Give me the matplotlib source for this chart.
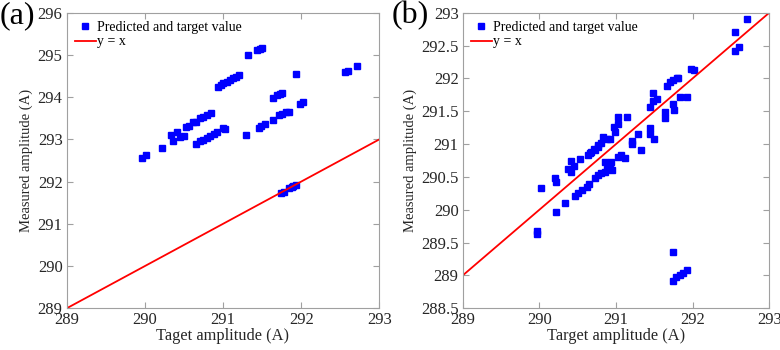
import numpy as np
import matplotlib.pyplot as plt
from matplotlib import font_manager

serif_path = font_manager.findfont(font_manager.FontProperties(family='Liberation Serif'))
serif_name = font_manager.FontProperties(fname=serif_path).get_name()
plt.rcParams['font.family'] = 'serif'
plt.rcParams['font.serif'] = [serif_name, 'Liberation Serif', 'DejaVu Serif']

# panel (a) target / measured
a_x = [289.96, 290.01, 290.22, 290.34, 290.36, 290.41, 290.45, 290.50, 290.53, 290.57,
       290.62, 290.66, 290.70, 290.75, 290.79, 290.85, 290.65, 290.71, 290.75, 290.79,
       290.83, 290.88, 290.92, 291.00, 291.03, 290.94, 290.97, 291.00, 291.05, 291.09,
       291.13, 291.17, 291.21, 291.29, 291.32, 291.43, 291.47, 291.50, 291.46, 291.49,
       291.54, 291.64, 291.64, 291.69, 291.73, 291.76, 291.72, 291.76, 291.81, 291.85,
       291.93, 291.98, 292.03, 292.56, 292.60, 292.72, 291.74, 291.78, 291.84, 291.88,
       291.93, 291.90]
a_y = [292.57, 292.62, 292.80, 293.10, 292.95, 293.17, 293.05, 293.08, 293.30, 293.32,
       293.40, 293.42, 293.50, 293.52, 293.57, 293.63, 292.88, 292.95, 292.98, 293.04,
       293.08, 293.13, 293.17, 293.26, 293.25, 294.25, 294.29, 294.33, 294.37, 294.41,
       294.45, 294.48, 294.52, 293.10, 295.00, 295.12, 295.15, 295.16, 293.28, 293.32,
       293.36, 293.46, 293.99, 294.04, 294.08, 294.11, 293.58, 293.60, 293.65, 293.66,
       294.56, 293.84, 293.88, 294.60, 294.63, 294.73, 291.74, 291.76, 291.84, 291.88,
       291.92, 291.90]

# panel (b)
b_x = [289.97, 289.97, 290.02, 290.21, 290.22, 290.22, 290.34, 290.37, 290.41, 290.41,
       290.45, 290.47, 290.53, 290.51, 290.55, 290.62, 290.65, 290.64, 290.68, 290.73,
       290.77, 290.80, 290.83, 290.88, 290.92, 290.73, 290.77, 290.81, 290.86, 290.86,
       290.90, 290.92, 290.88, 290.95, 290.94, 290.97, 290.99, 291.03, 291.03, 291.03,
       291.07, 291.12, 291.15, 291.21, 291.21, 291.29, 291.32, 291.44, 291.45, 291.49,
       291.45, 291.48, 291.48, 291.53, 291.64, 291.64, 291.66, 291.70, 291.75, 291.79,
       291.81, 291.75, 291.76, 291.84, 291.93, 291.98, 292.02, 292.55, 292.55, 292.60,
       292.71, 291.75, 291.74, 291.78, 291.83, 291.88, 291.92, 290.66, 290.71, 290.76]
b_y = [289.67, 289.63, 290.33, 290.48, 290.43, 289.97, 290.11, 290.62, 290.57, 290.74,
       290.67, 290.21, 290.77, 290.26, 290.30, 290.35, 290.39, 290.84, 290.88, 290.91,
       290.96, 291.01, 291.11, 291.08, 291.07, 290.49, 290.53, 290.56, 290.58, 290.73,
       290.70, 290.66, 290.62, 290.61, 290.72, 291.26, 291.19, 291.31, 291.41, 290.80,
       290.83, 290.79, 291.41, 291.04, 291.00, 291.15, 290.91, 291.15, 291.24, 291.07,
       291.57, 291.78, 291.65, 291.68, 291.49, 291.39, 291.88, 291.95, 291.97, 292.00,
       292.01, 291.61, 291.52, 291.72, 291.72, 292.15, 292.13, 292.71, 292.41, 292.48,
       292.90, 289.35, 288.92, 288.98, 289.00, 289.03, 289.09, 290.87, 290.93, 290.98]

grey = '#a0a0a0'
fig = plt.figure(figsize=(7.8, 3.5), dpi=100)
ax1 = fig.add_axes([66.7 / 780, 1 - 308.3 / 350, 312.6 / 780, 295.6 / 350])
ax2 = fig.add_axes([462.7 / 780, 1 - 308.3 / 350, 306.6 / 780, 295.6 / 350])

panels = [
    (ax1, a_x, a_y, (289, 296), np.arange(289, 297, 1), 'Taget amplitude (A)', '(a)', 0.0),
    (ax2, b_x, b_y, (288.5, 293), np.arange(288.5, 293.01, 0.5), 'Target amplitude (A)', '(b)', 0.502),
]
for ax, xs, ys, ylim, yt, xl, tag, tx in panels:
    ax.plot(xs, ys, 's', color='#0000ff', markersize=5, label='Predicted and target value')
    line = np.array([289, 293])
    ax.plot(line, line, '-', color='#ff0000', linewidth=1.3, label='y = x')
    ax.set_xlim(289, 293)
    ax.set_ylim(*ylim)
    ax.set_xticks(np.arange(289, 294, 1))
    ax.set_yticks(yt)
    ax.set_yticklabels(['%g' % v for v in yt])
    ax.tick_params(direction='in', top=True, right=True, color=grey, labelsize=12,
                   length=4, pad=3, labelcolor='#262626')
    for s in ax.spines.values():
        s.set_color(grey)
    ax.set_xlabel(xl, fontsize=11.8, labelpad=0, color='#262626')
    ax.set_ylabel('Measured amplitude (A)', fontsize=10.5, labelpad=3, color='#262626')
    ax.legend(loc='upper left', frameon=False, fontsize=10, handlelength=1.5,
              handletextpad=0.1, borderaxespad=0.2, labelspacing=0.1,
              bbox_to_anchor=(0.0, 1.0))
    fig.text(tx, 0.955, tag, fontsize=23, va='center', ha='left')

fig.savefig('out.png', dpi=100)
